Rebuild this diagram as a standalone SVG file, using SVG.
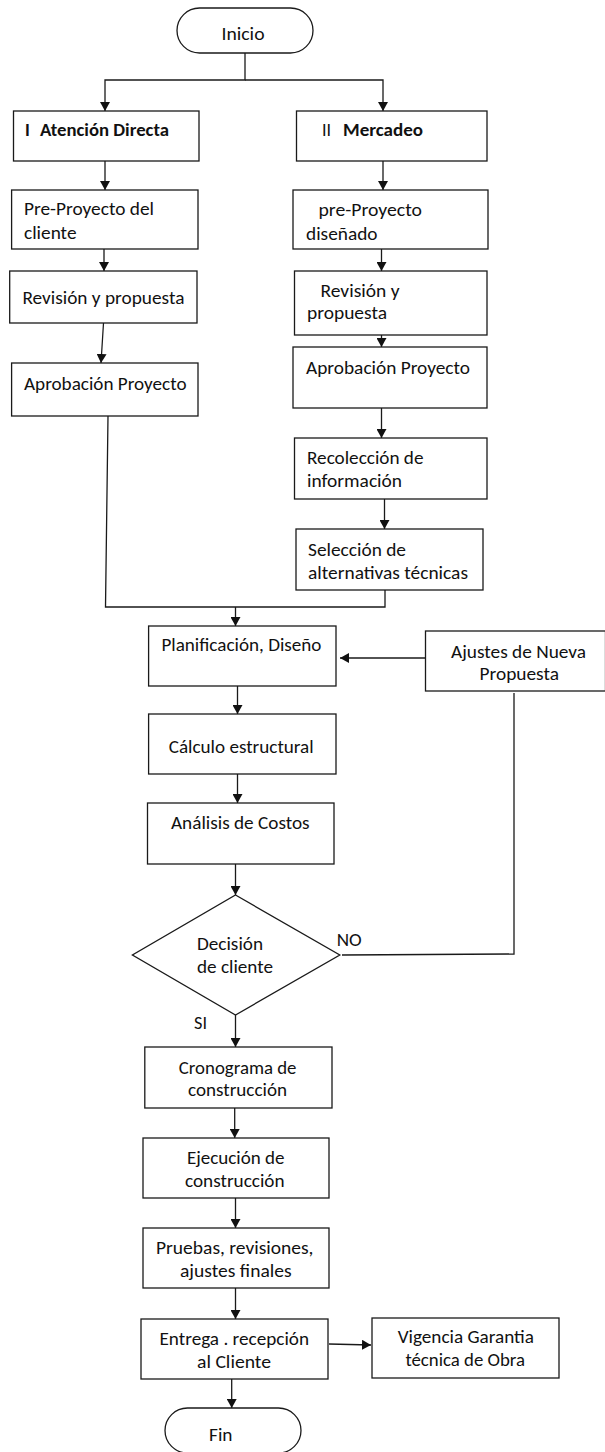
<svg xmlns="http://www.w3.org/2000/svg" width="605" height="1452" viewBox="0 0 605 1452">
  <style>
    .box { fill: #ffffff; stroke: #1a1a1a; stroke-width: 1.3; }
    .ln { fill: none; stroke: #1a1a1a; stroke-width: 1.3; }
    .arr { fill: none; stroke: #1a1a1a; stroke-width: 1.3; marker-end: url(#head); }
    text { font-family: Carlito, Lato, "Liberation Sans", sans-serif; font-size: 18px; fill: #111111; }
    .b { font-weight: bold; }
  </style>
  <defs>
    <marker id="head" markerUnits="userSpaceOnUse" markerWidth="9" markerHeight="10" refX="9" refY="5" orient="auto">
      <path d="M0,0 L9,5 L0,10 z" fill="#111111"/>
    </marker>
  </defs>
  <rect width="605" height="1452" fill="#ffffff"/>

  <!-- connectors -->
  <g id="connectors">
    <path class="arr" d="M245,53 V80 H105 V111"/>
    <path class="arr" d="M245,80 H383 V111"/>
    <path class="arr" d="M105,161 V190"/>
    <path class="arr" d="M383,161 V190"/>
    <path class="arr" d="M104,243 V271"/>
    <path class="arr" d="M381.5,242 V271"/>
    <path class="arr" d="M103.5,323 L101,363"/>
    <path class="arr" d="M381.5,315 V347"/>
    <path class="arr" d="M381.5,408 V438"/>
    <path class="arr" d="M384.5,499 V529"/>
    <path class="ln" d="M108,416 L105.5,607 H385 V590"/>
    <path class="arr" d="M235.5,607 V626"/>
    <path class="arr" d="M427,658 H340"/>
    <path class="arr" d="M237.5,686 V714"/>
    <path class="arr" d="M237.5,774 V803"/>
    <path class="arr" d="M235.5,864 V895"/>
    <path class="ln" d="M342,955 L514,954 V693"/>
    <path class="arr" d="M235.5,1015 V1047"/>
    <path class="arr" d="M234.7,1108 V1138"/>
    <path class="arr" d="M235.5,1198 V1228"/>
    <path class="arr" d="M235.5,1288 V1319"/>
    <path class="arr" d="M329,1344 L371,1345"/>
    <path class="arr" d="M231.7,1379 V1408"/>
  </g>

  <!-- start / end -->
  <g id="inicio">
    <rect class="box" x="177" y="8" width="136" height="45" rx="22.5"/>
    <text x="243" y="40" text-anchor="middle" textLength="43" lengthAdjust="spacingAndGlyphs">Inicio</text>
  </g>

  <!-- left branch -->
  <g id="atencion-directa">
    <rect class="box" x="13.5" y="111" width="185.5" height="50"/>
    <text class="b" x="25" y="136">I</text>
    <text class="b" x="40" y="136" textLength="129" lengthAdjust="spacingAndGlyphs">Atención Directa</text>
  </g>
  <g id="pre-proyecto-cliente">
    <rect class="box" x="11.6" y="190" width="186.4" height="59"/>
    <text x="24" y="215" textLength="130" lengthAdjust="spacingAndGlyphs">Pre-Proyecto del</text>
    <text x="24" y="239" textLength="52.5" lengthAdjust="spacingAndGlyphs">cliente</text>
  </g>
  <g id="revision-izq">
    <rect class="box" x="9.7" y="271" width="187.3" height="52"/>
    <text x="22.4" y="304" textLength="162" lengthAdjust="spacingAndGlyphs">Revisión y propuesta</text>
  </g>
  <g id="aprobacion-izq">
    <rect class="box" x="11.6" y="363" width="186.4" height="53"/>
    <text x="24" y="390" textLength="162.5" lengthAdjust="spacingAndGlyphs">Aprobación Proyecto</text>
  </g>

  <!-- right branch -->
  <g id="mercadeo">
    <rect class="box" x="296.5" y="111" width="190.5" height="50"/>
    <text x="322" y="136">II</text>
    <text class="b" x="343" y="136" textLength="80" lengthAdjust="spacingAndGlyphs">Mercadeo</text>
  </g>
  <g id="pre-proyecto-disenado">
    <rect class="box" x="293" y="190" width="195" height="59"/>
    <text x="318.5" y="216" textLength="103.5" lengthAdjust="spacingAndGlyphs">pre-Proyecto</text>
    <text x="306" y="240" textLength="71.5" lengthAdjust="spacingAndGlyphs">diseñado</text>
  </g>
  <g id="revision-der">
    <rect class="box" x="294.5" y="271" width="192.5" height="64"/>
    <text x="320.5" y="297" textLength="79" lengthAdjust="spacingAndGlyphs">Revisión y</text>
    <text x="307" y="319" textLength="80" lengthAdjust="spacingAndGlyphs">propuesta</text>
  </g>
  <g id="aprobacion-der">
    <rect class="box" x="293" y="347" width="194" height="61"/>
    <text x="306" y="374" textLength="164" lengthAdjust="spacingAndGlyphs">Aprobación Proyecto</text>
  </g>
  <g id="recoleccion">
    <rect class="box" x="294.5" y="438" width="192.5" height="61"/>
    <text x="307" y="464" textLength="116.5" lengthAdjust="spacingAndGlyphs">Recolección de</text>
    <text x="307" y="487" textLength="95" lengthAdjust="spacingAndGlyphs">información</text>
  </g>
  <g id="seleccion">
    <rect class="box" x="296" y="529" width="187" height="61"/>
    <text x="308" y="556" textLength="98" lengthAdjust="spacingAndGlyphs">Selección de</text>
    <text x="308" y="579" textLength="160" lengthAdjust="spacingAndGlyphs">alternativas técnicas</text>
  </g>

  <!-- main column -->
  <g id="planificacion">
    <rect class="box" x="148.6" y="626" width="187.4" height="60"/>
    <text x="161.4" y="651" textLength="160" lengthAdjust="spacingAndGlyphs">Planificación, Diseño</text>
  </g>
  <g id="ajustes">
    <rect class="box" x="425.5" y="631" width="180" height="60"/>
    <text x="451" y="658" textLength="135" lengthAdjust="spacingAndGlyphs">Ajustes de Nueva</text>
    <text x="479.5" y="680" textLength="79.5" lengthAdjust="spacingAndGlyphs">Propuesta</text>
  </g>
  <g id="calculo">
    <rect class="box" x="148.6" y="714" width="187.4" height="60"/>
    <text x="168.7" y="753" textLength="145" lengthAdjust="spacingAndGlyphs">Cálculo estructural</text>
  </g>
  <g id="analisis">
    <rect class="box" x="147.5" y="803" width="186.5" height="61"/>
    <text x="171" y="829" textLength="138.6" lengthAdjust="spacingAndGlyphs">Análisis de Costos</text>
  </g>
  <g id="decision">
    <polygon class="box" points="235.5,895 339.8,955 235.5,1015 132.4,955"/>
    <text x="197" y="950" textLength="66" lengthAdjust="spacingAndGlyphs">Decisión</text>
    <text x="197" y="973" textLength="76" lengthAdjust="spacingAndGlyphs">de cliente</text>
    <text x="336.7" y="946" textLength="25" lengthAdjust="spacingAndGlyphs">NO</text>
    <text x="194" y="1029" textLength="13" lengthAdjust="spacingAndGlyphs">SI</text>
  </g>
  <g id="cronograma">
    <rect class="box" x="144.8" y="1047" width="187.2" height="61"/>
    <text x="178.8" y="1074" textLength="117.7" lengthAdjust="spacingAndGlyphs">Cronograma de</text>
    <text x="188" y="1096" textLength="99" lengthAdjust="spacingAndGlyphs">construcción</text>
  </g>
  <g id="ejecucion">
    <rect class="box" x="143" y="1138" width="186" height="60"/>
    <text x="187" y="1164" textLength="97.5" lengthAdjust="spacingAndGlyphs">Ejecución de</text>
    <text x="185" y="1187" textLength="99.5" lengthAdjust="spacingAndGlyphs">construcción</text>
  </g>
  <g id="pruebas">
    <rect class="box" x="143" y="1228" width="186" height="60"/>
    <text x="156" y="1254" textLength="157.5" lengthAdjust="spacingAndGlyphs">Pruebas, revisiones,</text>
    <text x="180" y="1277" textLength="111.6" lengthAdjust="spacingAndGlyphs">ajustes finales</text>
  </g>
  <g id="entrega">
    <rect class="box" x="141" y="1319" width="187" height="60"/>
    <text x="159.5" y="1345" textLength="149.5" lengthAdjust="spacingAndGlyphs">Entrega . recepción</text>
    <text x="197" y="1368" textLength="74" lengthAdjust="spacingAndGlyphs">al Cliente</text>
  </g>
  <g id="vigencia">
    <rect class="box" x="372" y="1318" width="187" height="60"/>
    <text x="397.7" y="1343" textLength="136.3" lengthAdjust="spacingAndGlyphs">Vigencia Garantia</text>
    <text x="405.4" y="1366" textLength="119.6" lengthAdjust="spacingAndGlyphs">técnica de Obra</text>
  </g>
  <g id="fin">
    <rect class="box" x="165" y="1408" width="136" height="45" rx="22.5"/>
    <text x="209" y="1441" textLength="23.5" lengthAdjust="spacingAndGlyphs">Fin</text>
  </g>
</svg>
